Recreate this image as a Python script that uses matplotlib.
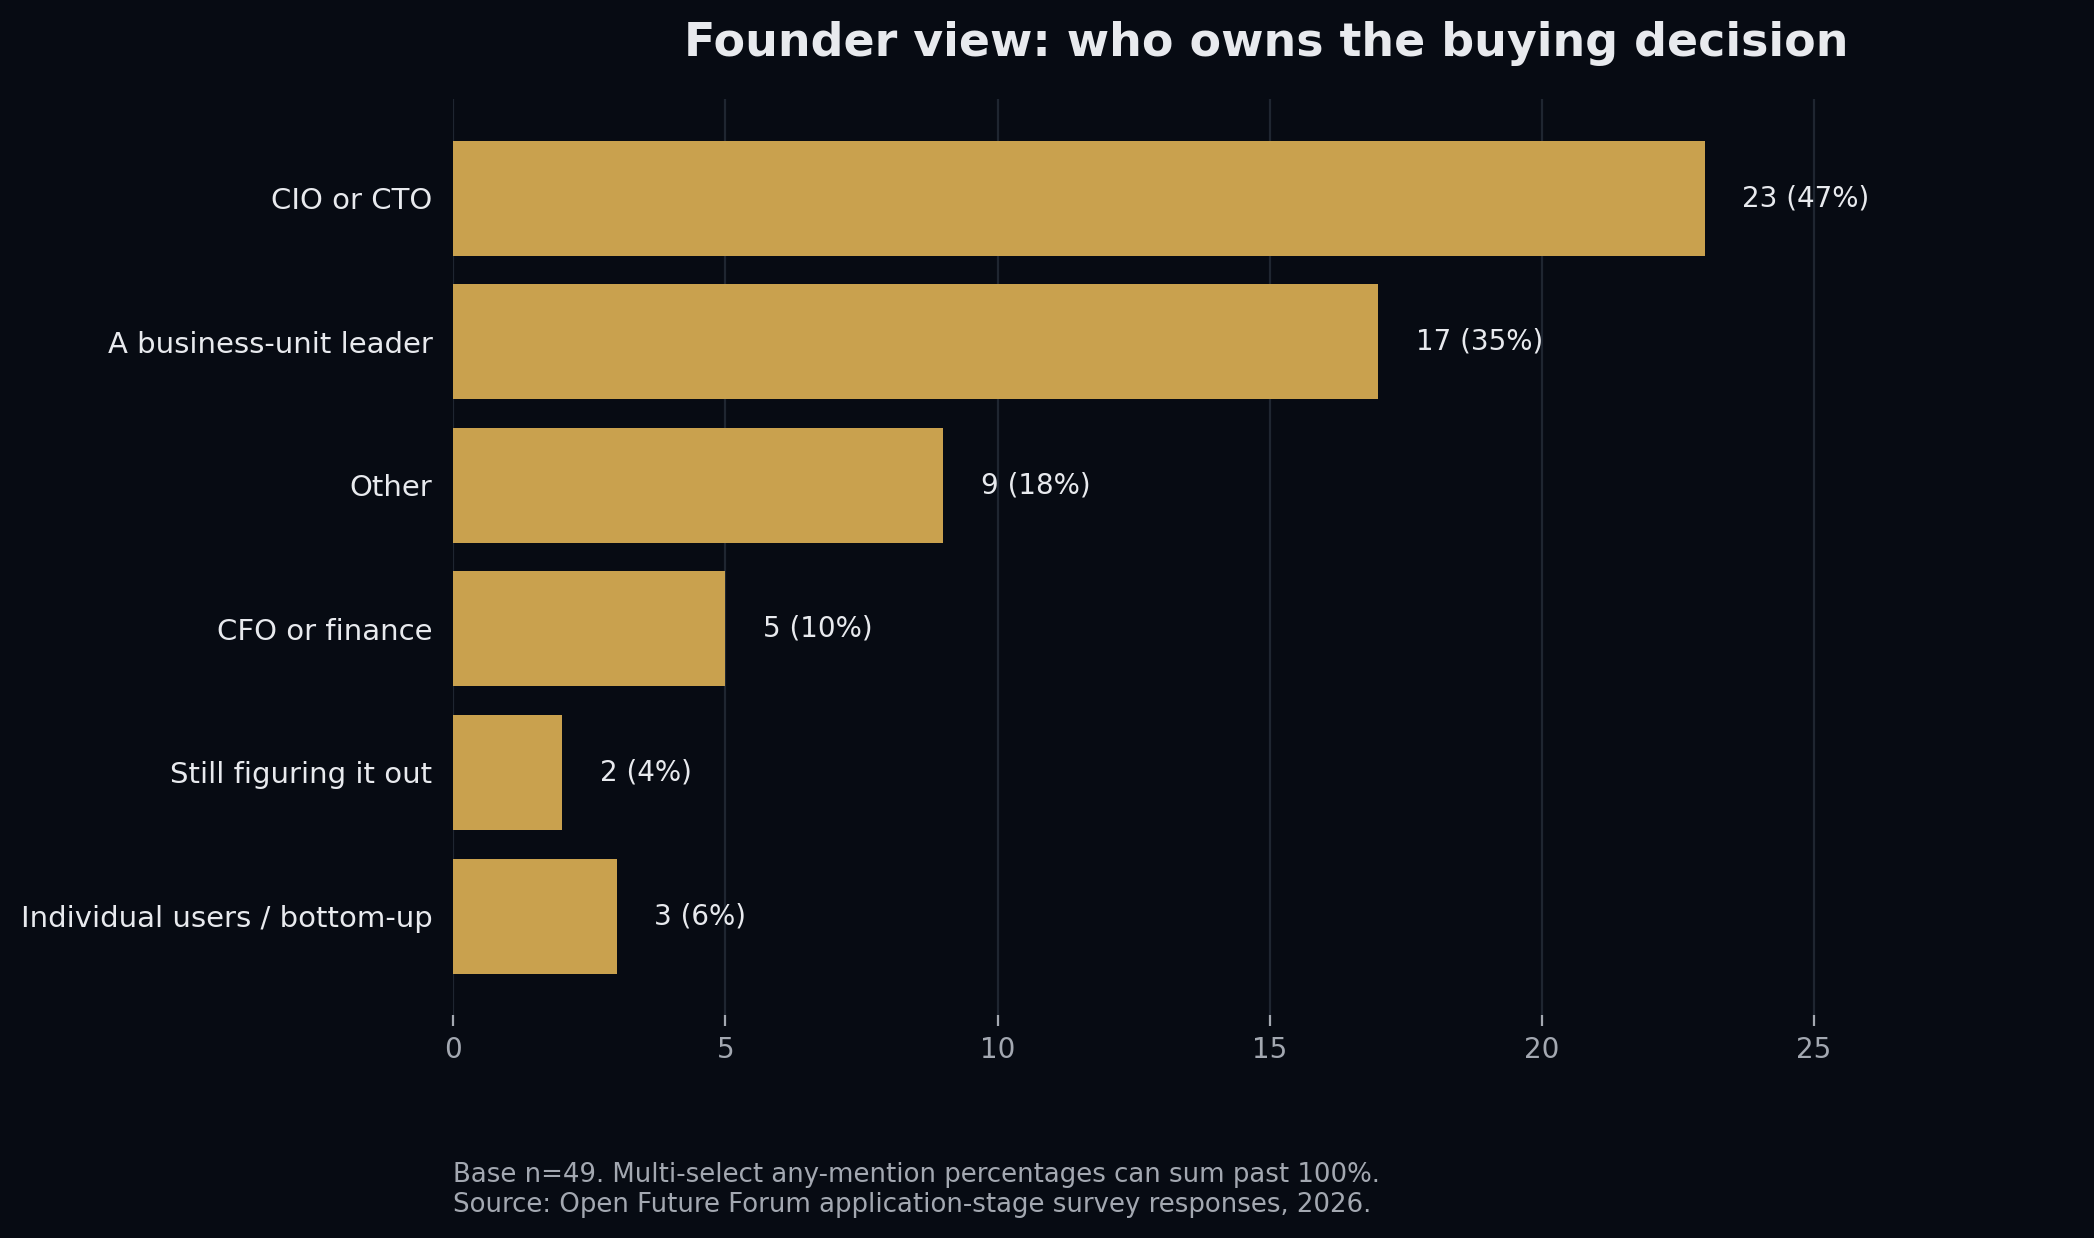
import matplotlib
matplotlib.use("Agg")
import matplotlib.pyplot as plt

categories = ["CIO or CTO", "A business-unit leader", "Other", "CFO or finance",
              "Still figuring it out", "Individual users / bottom-up"]
counts = [23, 17, 9, 5, 2, 3]
percents = [47, 35, 18, 10, 4, 6]
base_n = 49
xticks = [0, 5, 10, 15, 20, 25]

BG = "#070b13"
BAR = "#c9a14e"
GRID = "#1f2631"
TXT = "#e8eaee"
MUTED = "#a3a8b1"

fig = plt.figure(figsize=(10.47, 6.19), dpi=200, facecolor=BG)
ax = fig.add_axes([0.2165, 0.18, 0.777, 0.74])
ax.set_facecolor(BG)

y = list(range(len(categories)))
ax.barh(y, counts, height=0.8, color=BAR, zorder=2)
ax.invert_yaxis()
ax.set_yticks(y)
ax.set_yticklabels(categories, color=TXT, fontsize=10.5)
ax.set_xticks(xticks)
ax.set_xticklabels([str(t) for t in xticks], color=MUTED, fontsize=10)
ax.set_xlim(0, max(counts) * 1.3)

for yi, c, p in zip(y, counts, percents):
    ax.text(c + max(counts) * 0.03, yi, f"{c} ({p}%)", va="center", ha="left",
            color=TXT, fontsize=10)

for s in ax.spines.values():
    s.set_visible(False)
ax.grid(axis="x", color=GRID, linewidth=0.8, zorder=0)
ax.set_axisbelow(True)
ax.tick_params(axis="x", colors=MUTED, length=4, width=0.8, labelcolor=MUTED)
ax.tick_params(axis="y", colors=BG, length=4, labelcolor=TXT)

fig.text(0.6045, 0.983, "Founder view: who owns the buying decision", ha="center", va="top",
         color=TXT, fontsize=16.5, fontweight="bold")
fig.text(0.2165, 0.016,
         f"Base n={base_n}. Multi-select any-mention percentages can sum past 100%.\n"
         "Source: Open Future Forum application-stage survey responses, 2026.",
         ha="left", va="bottom", color=MUTED, fontsize=9.35, linespacing=1.2)

fig.savefig("out.png", dpi=200, facecolor=BG)
